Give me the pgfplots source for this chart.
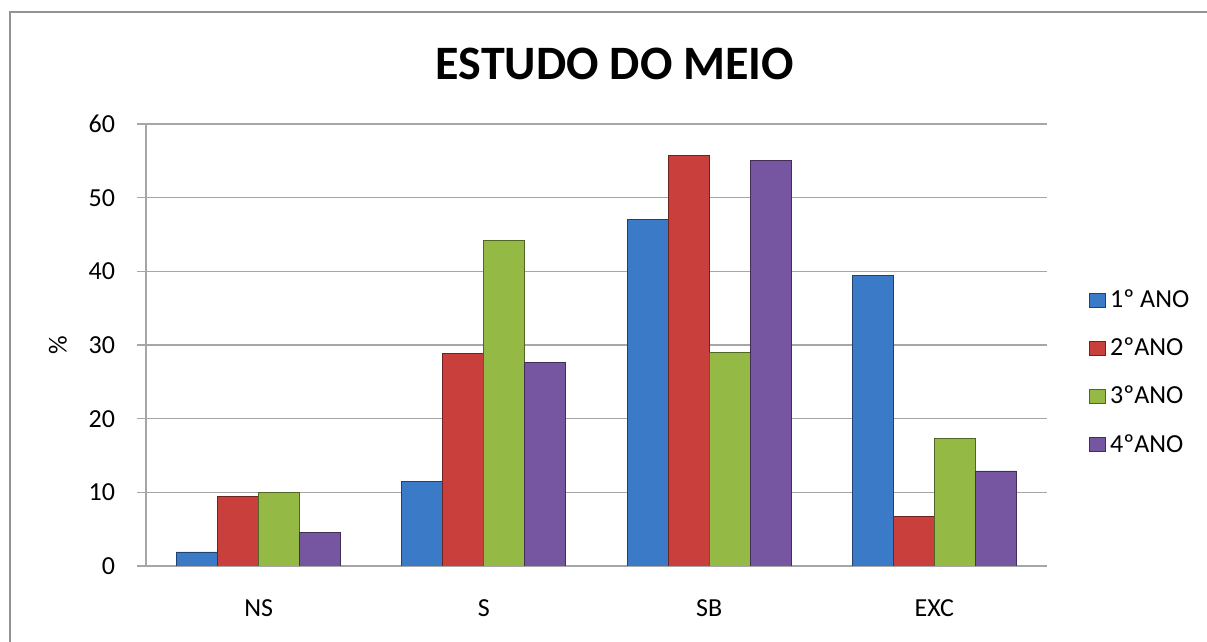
\documentclass[border=0pt]{standalone}
\usepackage{pgfplots}
\pgfplotsset{compat=1.18}
\usetikzlibrary{calc}
\usepackage{fontspec}
\setmainfont{Carlito}
\definecolor{cA}{HTML}{3A7AC6}
\definecolor{cB}{HTML}{C83F3C}
\definecolor{cC}{HTML}{94BA45}
\definecolor{cD}{HTML}{7656A0}
\definecolor{gridc}{HTML}{A6A6A6}
\begin{document}
\begin{tikzpicture}
\begin{axis}[
  name=ax, at={(0pt,0pt)}, anchor=south west,
  scale only axis, width=450.5pt, height=221pt,
  xmin=-0.5, xmax=3.5, ymin=0, ymax=60,
  ytick={0,10,...,60},
  xtick={0,1,2,3}, xticklabels={NS,S,SB,EXC},
  ymajorgrids, grid style={draw=gridc, line width=0.8pt},
  axis x line*=bottom, axis y line*=left,
  axis line style={draw=gridc, line width=0.8pt},
  y axis line style={-}, x axis line style={-},
  ytick style={draw=gridc, line width=0.8pt}, major tick length=4.5pt,
  tick align=outside,
  xtick style={draw=none},
  /pgf/number format/assume math mode=true,
  ticklabel style={font=\fontsize{13}{15}\selectfont},
  yticklabel style={xshift=-7.5pt},
  xticklabel style={yshift=-9pt},
  ylabel={\%}, ylabel style={font=\fontsize{13}{15}\selectfont, at={(axis description cs:-0.0977,0.5)}, anchor=center},
  ybar=0pt, bar width=20.5pt,
  legend style={at={(axis description cs:1.0466,0.4378)}, anchor=west, draw=none, fill=none,
    inner sep=0pt, font=\fontsize{13}{15}\selectfont, row sep=9.75pt,
    /tikz/every even column/.append style={column sep=1.5pt}},
  legend cell align=left,
  legend image code/.code={\path[#1, draw opacity=1] (0pt,-3.5pt) rectangle (8pt,3.5pt);},
]
\addplot[fill=cA, draw=cA!55!black] coordinates {(0,1.9) (1,11.5) (2,47.1) (3,39.5)};
\addplot[fill=cB, draw=cB!55!black] coordinates {(0,9.4) (1,28.8) (2,55.7) (3,6.7)};
\addplot[fill=cC, draw=cC!55!black] coordinates {(0,10.0) (1,44.2) (2,29.0) (3,17.3)};
\addplot[fill=cD, draw=cD!55!black] coordinates {(0,4.5) (1,27.6) (2,55.1) (3,12.9)};
\legend{1º ANO,2ºANO,3ºANO,4ºANO}
\end{axis}
\pgfresetboundingbox
\coordinate (O) at ($(ax.south west)+(-73pt,-38pt)$);
\path[use as bounding box] (O) rectangle ($(O)+(603.5pt,321pt)$);
\draw[color=gray!85, line width=1.1pt] ($(O)+(5pt,-3pt)$) -- ($(O)+(5pt,315pt)$) -- ($(O)+(607pt,315pt)$);
\node[font=\fontsize{24}{29}\selectfont\bfseries] at ($(O)+(307.5pt,289pt)$) {ESTUDO DO MEIO};
\end{tikzpicture}
\end{document}
